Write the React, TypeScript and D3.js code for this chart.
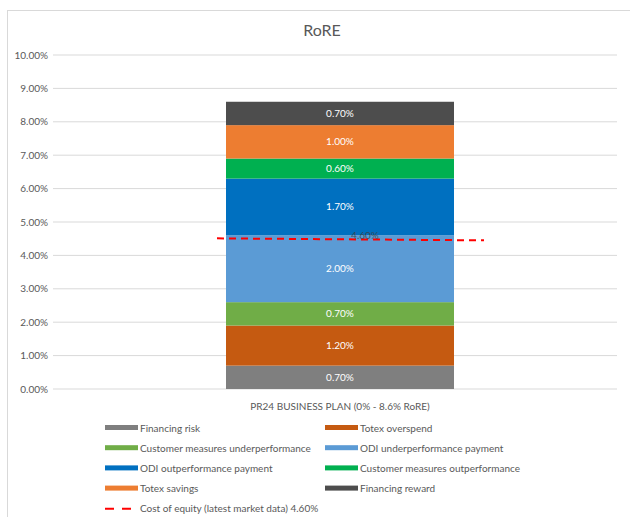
import React, { useEffect, useRef } from 'react';
import * as d3 from 'd3';

const categoryLabel = 'PR24 BUSINESS PLAN (0% - 8.6% RoRE)';
const segmentNames = [
  'Financing risk',
  'Totex overspend',
  'Customer measures underperformance',
  'ODI underperformance payment',
  'ODI outperformance payment',
  'Customer measures outperformance',
  'Totex savings',
  'Financing reward',
];
const segmentValues = [0.7, 1.2, 0.7, 2.0, 1.7, 0.6, 1.0, 0.7];
const segmentColors = ['#7f7f7f', '#c55a11', '#70ad47', '#5b9bd5', '#0070c0', '#00b050', '#ed7d31', '#4d4d4d'];
const costOfEquity = 4.6;
const costLabel = 'Cost of equity (latest market data) 4.60%';
const yTicks = [0, 1, 2, 3, 4, 5, 6, 7, 8, 9, 10];

const App = () => {
  const chartRef = useRef<SVGSVGElement>(null);

  useEffect(() => {
    document.body.style.margin = '0';
    drawChart();
  }, []);

  const drawChart = () => {
    const width = 630;
    const height = 517;
    const font = 'Lato, "Open Sans", sans-serif';
    const textColor = '#595959';

    const svg = d3.select(chartRef.current)
      .attr('width', width)
      .attr('height', height)
      .style('display', 'block')
      .style('font-family', font);
    svg.selectAll('*').remove();

    svg.append('rect').attr('width', width).attr('height', height).attr('fill', 'white');

    // chart frame
    svg.append('rect')
      .attr('x', 7.5).attr('y', 10.5)
      .attr('width', 640).attr('height', 520)
      .attr('fill', 'none')
      .attr('stroke', '#d9d9d9');

    svg.append('text')
      .attr('x', 322).attr('y', 36)
      .attr('text-anchor', 'middle')
      .attr('font-size', 16)
      .attr('fill', textColor)
      .text('RoRE');

    const y = d3.scaleLinear().domain([0, 10]).range([389, 55]);
    const x = d3.scaleBand().domain([categoryLabel]).range([55, 625]).paddingInner(0.6).paddingOuter(0.3);

    // gridlines + tick labels
    const grid = svg.append('g');
    grid.selectAll('line')
      .data(yTicks)
      .join('line')
      .attr('x1', 53).attr('x2', 617)
      .attr('y1', d => y(d)).attr('y2', d => y(d))
      .attr('stroke', '#d9d9d9')
      .attr('stroke-width', 1);
    grid.selectAll('text')
      .data(yTicks)
      .join('text')
      .attr('x', 48)
      .attr('y', d => y(d) + 3.5)
      .attr('text-anchor', 'end')
      .attr('font-size', 10)
      .attr('fill', textColor)
      .text(d => d3.format('.2f')(d) + '%');

    // stacked segments
    let acc = 0;
    const stacked = segmentValues.map((v, i) => {
      const s = { name: segmentNames[i], v, y0: acc, y1: acc + v, color: segmentColors[i] };
      acc += v;
      return s;
    });

    const bx = x(categoryLabel)!;
    const bw = x.bandwidth();
    const bars = svg.append('g');
    bars.selectAll('rect')
      .data(stacked)
      .join('rect')
      .attr('x', bx)
      .attr('width', bw)
      .attr('y', d => y(d.y1))
      .attr('height', d => y(d.y0) - y(d.y1))
      .attr('fill', d => d.color);
    bars.selectAll('text')
      .data(stacked)
      .join('text')
      .attr('x', bx + bw / 2)
      .attr('y', d => y((d.y0 + d.y1) / 2) + 3.5)
      .attr('text-anchor', 'middle')
      .attr('font-size', 10)
      .attr('fill', 'white')
      .text(d => d3.format('.2f')(d.v) + '%');

    // cost of equity line
    svg.append('line')
      .attr('x1', bx - 9).attr('x2', bx + bw + 30)
      .attr('y1', y(costOfEquity) + 3).attr('y2', y(costOfEquity) + 5)
      .attr('stroke', '#ff0000')
      .attr('stroke-width', 2)
      .attr('stroke-dasharray', '7,5');
    svg.append('text')
      .attr('x', bx + bw / 2 + 25)
      .attr('y', y(costOfEquity) + 4)
      .attr('text-anchor', 'middle')
      .attr('font-size', 10)
      .attr('fill', '#404040')
      .attr('opacity', 0.8)
      .text(d3.format('.2f')(costOfEquity) + '%');

    // category label
    svg.append('text')
      .attr('x', bx + bw / 2)
      .attr('y', 410)
      .attr('text-anchor', 'middle')
      .attr('font-size', 10)
      .attr('fill', textColor)
      .text(categoryLabel);

    // legend
    const legend = svg.append('g');
    const items = stacked.map((d, i) => ({ name: d.name, color: d.color, col: i % 2, row: Math.floor(i / 2) }));
    const colX = [105, 325];
    const rowY = (r: number) => 428 + r * 20.2;
    const li = legend.selectAll('g')
      .data(items)
      .join('g')
      .attr('transform', d => `translate(${colX[d.col]},${rowY(d.row)})`);
    li.append('rect')
      .attr('x', 0).attr('y', -3)
      .attr('width', 33).attr('height', 5)
      .attr('fill', d => d.color);
    li.append('text')
      .attr('x', 35).attr('y', 3.5)
      .attr('font-size', 10)
      .attr('fill', textColor)
      .text(d => d.name);

    const cg = legend.append('g').attr('transform', `translate(${colX[0]},${rowY(4)})`);
    cg.append('line')
      .attr('x1', 0).attr('x2', 33).attr('y1', 0).attr('y2', 0)
      .attr('stroke', '#ff0000').attr('stroke-width', 2).attr('stroke-dasharray', '9,8');
    cg.append('text')
      .attr('x', 35).attr('y', 3.5)
      .attr('font-size', 10)
      .attr('fill', textColor)
      .text(costLabel);
  };

  return <svg ref={chartRef}></svg>;
};

export default App;
